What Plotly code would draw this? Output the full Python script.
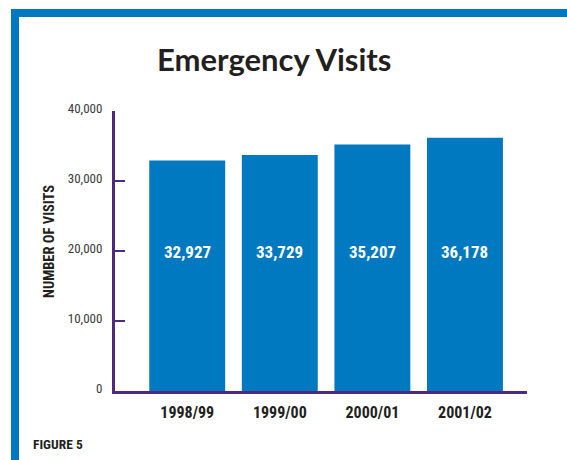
import plotly.graph_objects as go

# Emergency department visits by fiscal year
years = ["1998/99", "1999/00", "2000/01", "2001/02"]
visits = [32927, 33729, 35207, 36178]
y_ticks = [0, 10000, 20000, 30000, 40000]
y_tick_text = ["0", "10,000", "20,000", "30,000", "40,000"]

W, H = 567, 460
L, R, T, B = 115, 40, 111, 69
PW, PH = W - L - R, H - T - B

BLUE = "#0079C1"
PURPLE = "#4E2A7E"
NARROW = "Roboto Condensed, Open Sans Condensed, sans-serif"


def px_x(px):
    return (px - L) / PW


def px_y(py):
    return (H - B - py) / PH


fig = go.Figure(
    go.Bar(
        x=list(range(len(years))),
        y=visits,
        marker=dict(color=BLUE, line=dict(width=0)),
        width=0.82,
        hoverinfo="skip",
    )
)

# value labels centred in each bar
for i, v in enumerate(visits):
    fig.add_annotation(
        x=i, y=20000, xref="x", yref="y", text=f"{v:,}", showarrow=False,
        xanchor="center", yanchor="middle",
        font=dict(family=NARROW, size=17, color="white", weight="bold"),
        yshift=-0.5,
    )

# blue page frame (top and left edges)
fig.add_shape(type="rect", xref="paper", yref="paper",
              x0=px_x(11), x1=px_x(580), y0=px_y(17), y1=px_y(9),
              fillcolor=BLUE, line=dict(width=0), layer="above")
fig.add_shape(type="rect", xref="paper", yref="paper",
              x0=px_x(11), x1=px_x(19), y0=px_y(480), y1=px_y(9),
              fillcolor=BLUE, line=dict(width=0), layer="above")

fig.add_annotation(
    x=px_x(274), y=px_y(59), xref="paper", yref="paper",
    xanchor="center", yanchor="middle",
    text="Emergency Visits", showarrow=False,
    font=dict(family="Lato, Open Sans, sans-serif", size=31, color="#231F20", weight="bold"),
)
fig.add_annotation(
    x=px_x(49), y=px_y(242), xref="paper", yref="paper",
    xanchor="center", yanchor="middle",
    text="NUMBER OF VISITS", showarrow=False, textangle=-90,
    font=dict(family=NARROW, size=14.5, color="#231F20", weight="bold"),
)
fig.add_annotation(
    x=px_x(31), y=px_y(444), xref="paper", yref="paper",
    xanchor="left", yanchor="middle",
    text="FIGURE 5", showarrow=False,
    font=dict(family=NARROW, size=13.5, color="#231F20", weight="bold"),
)

fig.update_layout(
    width=W, height=H,
    margin=dict(l=L, r=R, t=T, b=B, pad=0),
    paper_bgcolor="white", plot_bgcolor="white",
    showlegend=False,
    xaxis=dict(
        range=[-0.78, 3.67],
        tickmode="array", tickvals=list(range(len(years))), ticktext=years,
        showgrid=False, zeroline=False,
        showline=True, linecolor=PURPLE, linewidth=3,
        ticks="", ticklabelstandoff=5,
        tickfont=dict(family=NARROW, size=16, color="#231F20", weight="bold"),
    ),
    yaxis=dict(
        range=[0, 40000],
        tickmode="array", tickvals=y_ticks, ticktext=y_tick_text,
        showgrid=False, zeroline=False,
        showline=True, linecolor=PURPLE, linewidth=3,
        ticks="inside", ticklen=10, tickwidth=2, tickcolor=PURPLE,
        ticklabelstandoff=7, ticklabelshift=-3,
        tickfont=dict(family=NARROW, size=13, color="#3A3A3A"),
    ),
)

fig.write_html("out.html")
